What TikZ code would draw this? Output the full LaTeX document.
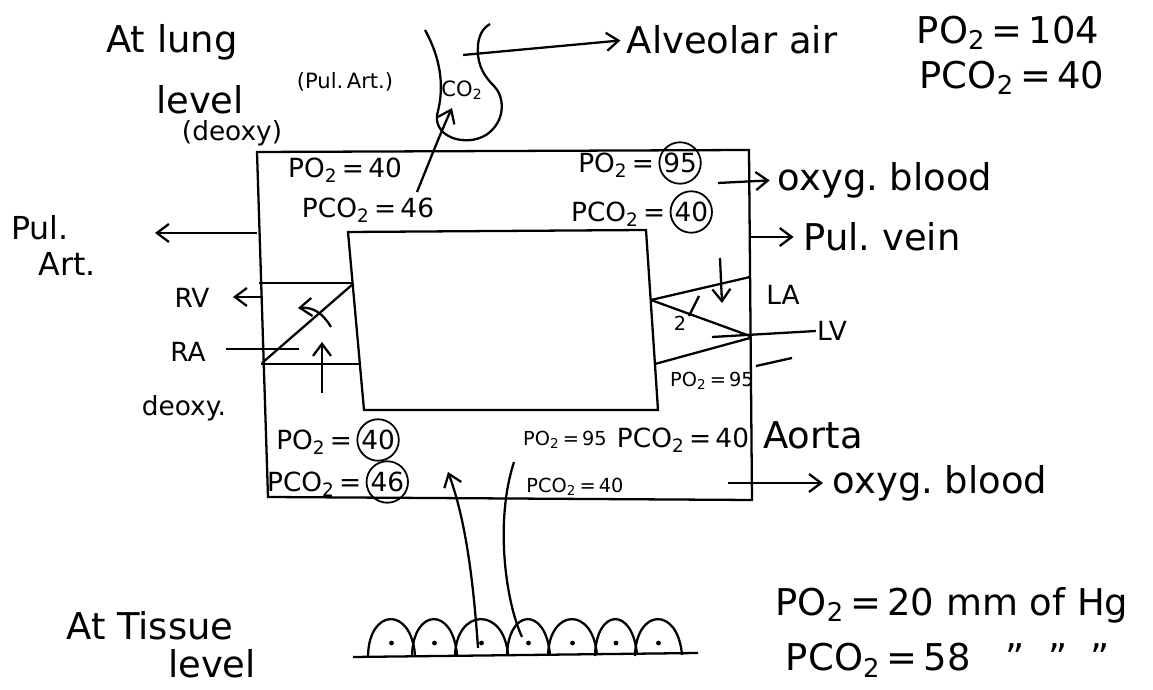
\documentclass[tikz,border=0pt]{standalone}
\usepackage{fontspec}
\setmainfont{DejaVu Sans}
\usetikzlibrary{arrows.meta}
\newcommand{\pO}{PO\textsubscript{2}}
\newcommand{\pCO}{PCO\textsubscript{2}}
\newcommand{\ringed}[1]{\tikz[baseline=(r.base)]\node[draw,circle,inner sep=0.5pt,line width=1pt](r){#1};}

\begin{document}
\begin{tikzpicture}[
    x=0.2mm, y=-0.2mm,
    line width=1.3pt,
    big/.style={font=\fontsize{21}{24}\selectfont, inner sep=0pt},
    mid/.style={font=\fontsize{15}{18}\selectfont, inner sep=0pt},
    small/.style={font=\fontsize{11}{13}\selectfont, inner sep=0pt},
    arrow/.style={-{Straight Barb[length=2.4mm,width=3.6mm]}}
  ]
    \useasboundingbox (0,0) rectangle (1153,690);

    % box and chambers
    \draw (257,152) -- (749,150) -- (752,500) -- (268,497) -- cycle;
    \draw (348,232) -- (646,230) -- (658,410) -- (364,410) -- cycle;
    \draw (259,283) -- (353,283);
    \draw (261,364) -- (360,364);
    \draw (262,363) -- (353,284);
    \draw (651,300) -- (750,277);
    \draw (651,300) -- (750,336);
    \draw (655,364) -- (750,338);

    \node[big] (lung) at (172,42) {At lung};
    \node[big] (lvl) at (200,100) {level};
    \node[mid] (deoxyA) at (232,133) {(deoxy)};
    \node[mid, font=\fontsize{12}{14}\selectfont] (pulartA) at (345,82) {(Pul.\,Art.)};
    \node[small, font=\fontsize{12}{14}\selectfont] (co2) at (462,90) {CO\textsubscript{2}};
    \node[big] (alv) at (732,40) {Alveolar air};
    \node[big] (po104) at (1008,33) {\pO\,=\,104};
    \node[big] (pco40a) at (1012,78) {\pCO\,=\,40};

    \node[mid] (po40) at (345,170) {\pO\,=\,40};
    \node[mid] (pco46) at (368,210) {\pCO\,=\,46};
    \node[mid] (po95) at (640,163) {\pO\,=\,\ringed{95}};
    \node[mid] (pco40b) at (642,212) {\pCO\,=\,\ringed{40}};
    \node[big] (oxyA) at (885,180) {oxyg.\ blood};
    \node[big] (pvein) at (882,237) {Pul.\ vein};

    \node[mid, font=\fontsize{18}{20}\selectfont] (pul) at (40,228) {Pul.};
    \node[mid, font=\fontsize{18}{20}\selectfont] (art) at (67,264) {Art.};
    \node[mid] (rv) at (192,298) {RV};
    \node[mid] (ra) at (188,352) {RA};
    \node[mid] (deoxyB) at (184,408) {deoxy.};
    \node[mid] (la) at (783,295) {LA};
    \node[mid] (lv) at (832,331) {LV};
    \node[small] (two) at (680,323) {2};
    \node[small] (po95s) at (712,381) {\pO\,=\,95};

    \node[mid] (po40c) at (338,440) {\pO\,=\,\ringed{40}};
    \node[mid] (pco46c) at (338,482) {\pCO\,=\,\ringed{46}};
    \node[small] (po95b) at (565,440) {\pO\,=\,95};
    \node[mid] (pco40c) at (683,440) {\pCO\,=\,40};
    \node[small] (pco40d) at (575,487) {\pCO\,=\,40};
    \node[big] (aorta) at (813,435) {Aorta};
    \node[big] (oxyB) at (940,483) {oxyg.\ blood};

    \node[big] (tis) at (150,626) {At Tissue};
    \node[big] (tlvl) at (212,664) {level};
    \node[big] (po20) at (952,605) {\pO\,=\,20 mm of Hg};
    \node[big] (pco58) at (948,660) {\pCO\,=\,58 \ \ " \ " \ "};

    % alveolus
    \draw (425,30) .. controls (447,70) and (441,100) .. (437,115)
      .. controls (434,140) and (472,148) .. (490,132)
      .. controls (506,118) and (504,96) .. (494,86)
      .. controls (480,72) and (477,60) .. (478,45)
      .. controls (479,35) and (483,28) .. (490,24);

    \coordinate (sacA) at (463,55);
    \coordinate (co2s) at (417,192);
    \coordinate (co2e) at (452,108);
    \coordinate (paA) at (257,233);
    \coordinate (paB) at (155,233);
    \coordinate (pvA) at (750,237);
    \coordinate (oxA) at (718,183);
    \coordinate (rvA) at (263,297);
    \coordinate (rvB) at (233,297);
    \coordinate (raA) at (226,349);
    \coordinate (raB) at (299,349);
    \coordinate (aoA) at (728,483);

    \draw[arrow, shorten >=3pt] (sacA) -- (alv.west);
    \draw[arrow] (co2s) .. controls (430,160) and (440,134) .. (co2e);
    \draw[arrow] (paA) -- (paB);
    \draw[arrow, shorten >=4pt] (oxA) -- (oxyA.west);
    \draw[arrow, shorten >=5pt] (pvA) -- (pvein.west);
    \draw[arrow] (rvA) -- (rvB);
    \draw (raA) -- (raB);
    \draw[arrow] (331,327) .. controls (322,312) and (312,307) .. (298,308);
    \draw[arrow] (322,393) -- (322,342);
    \draw[arrow] (720,258) -- (722,303);
    \draw (699,296) -- (689,316);
    \draw (712,337) -- (lv.west);
    \draw (756,366) -- (792,358);
    \draw[arrow, shorten >=5pt] (aoA) -- (oxyB.west);

    % tissue
    \draw (353,657) -- (698,653);
    \foreach \s/\e in {368/415, 412/457, 455/508, 507/550, 548/597, 595/637, 635/682}
      {\draw (\s,656) .. controls (\s+1,608) and (\e-4,606) .. (\e,655);
       \fill (\s/2+\e/2,643) circle (2.4);}
    \coordinate (cellA) at (478,648);
    \coordinate (cellB) at (522,637);
    \coordinate (upA) at (448,472);
    \coordinate (upB) at (514,462);
    \draw[arrow] (cellA) .. controls (472,560) and (462,510) .. (upA);
    \draw (cellB) .. controls (505,600) and (495,520) .. (upB);
  \end{tikzpicture}
\end{document}
